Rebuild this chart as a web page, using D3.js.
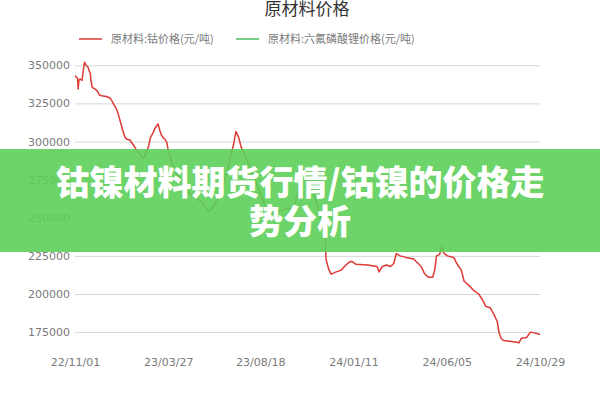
<!DOCTYPE html>
<html lang="zh">
<head>
<meta charset="UTF-8">
<title>原材料价格</title>
<script src="https://cdn.jsdelivr.net/npm/d3@7/dist/d3.min.js"></script>
<style>
    body { margin: 0; background: #fff; }
    svg { display: block; font-family: "Noto Sans CJK SC", "Noto Sans", sans-serif; }
    .grid line { stroke: #d6d6d6; }
    .axis text { fill: #7a7a7a; font-size: 11px; font-family: "DejaVu Sans", sans-serif; }
</style>
</head>
<body>
<svg id="chart" width="600" height="400"></svg>
<script>
// 钴价格 (元/吨)
var cobaltDates = [
    "2022-11-01","2022-11-05","2022-11-06","2022-11-07","2022-11-09","2022-11-12","2022-11-15","2022-11-16",
    "2022-11-18","2022-11-21","2022-11-25","2022-11-26","2022-11-28","2022-12-02","2022-12-05","2022-12-07",
    "2022-12-09","2022-12-13","2022-12-20","2022-12-26","2022-12-29","2023-01-01","2023-01-04","2023-01-07",
    "2023-01-09","2023-01-12","2023-01-15","2023-01-18","2023-01-21","2023-01-26","2023-01-29","2023-02-01",
    "2023-02-05","2023-02-08","2023-02-14","2023-02-16","2023-02-19","2023-02-24","2023-02-27","2023-03-03",
    "2023-03-06","2023-03-11","2023-03-14","2023-03-16","2023-03-19","2023-03-22","2023-03-25","2023-03-27",
    "2023-04-02","2023-04-09","2023-04-20","2023-04-28","2023-05-03","2023-05-11","2023-05-19","2023-05-24",
    "2023-05-29","2023-06-03","2023-06-08","2023-06-14","2023-06-21","2023-06-27","2023-07-02","2023-07-07",
    "2023-07-11","2023-07-15","2023-07-19","2023-07-25","2023-08-02","2023-08-10","2023-08-18","2023-08-26",
    "2023-08-31","2023-09-10","2023-09-18","2023-09-26","2023-10-04","2023-10-10","2023-10-15","2023-10-18",
    "2023-10-21","2023-10-26","2023-10-31","2023-11-04","2023-11-10","2023-11-15","2023-11-20","2023-11-25",
    "2023-11-28","2023-11-29","2023-12-03","2023-12-07","2023-12-10","2023-12-15","2023-12-22","2023-12-28",
    "2024-01-03","2024-01-08","2024-01-15","2024-02-02","2024-02-17","2024-02-20","2024-02-25","2024-03-03",
    "2024-03-09","2024-03-14","2024-03-18","2024-03-24","2024-04-02","2024-04-14","2024-04-20","2024-04-26",
    "2024-05-01","2024-05-07","2024-05-14","2024-05-17","2024-05-20","2024-05-25","2024-05-28","2024-05-31",
    "2024-06-06","2024-06-16","2024-06-20","2024-06-28","2024-07-02","2024-07-10","2024-07-18","2024-07-25",
    "2024-08-01","2024-08-05","2024-08-12","2024-08-18","2024-08-23","2024-08-26","2024-08-29","2024-09-02",
    "2024-09-11","2024-09-20","2024-09-26","2024-09-30","2024-10-08","2024-10-14","2024-10-20","2024-10-29"
];
var cobaltPrice = [
    343000,341500,334500,340000,341000,340000,350000,352000,
    350000,349000,344500,340000,335500,334500,333500,332500,
    330500,330000,329500,328500,326500,324000,322000,319000,
    316000,311500,307000,303000,301500,301000,299000,297500,
    294500,293000,289500,289000,291000,296500,302500,305500,
    308500,311500,307000,304500,302500,301500,299000,294000,
    285500,279000,272000,266500,264500,262500,260000,257000,
    254500,255500,259000,264500,272000,280000,289500,297500,
    306500,303000,296500,291000,283000,274500,265500,258000,
    253500,252500,254500,255500,256000,257000,264500,274500,
    282000,281000,275500,271000,265500,259000,250000,241500,
    235000,223000,216500,213000,213500,214500,215500,218000,
    220500,221500,219500,219000,218000,214500,218000,219000,
    218000,220000,226500,225000,224000,223000,220500,218000,
    213500,211000,211000,215500,225000,226000,232000,227000,
    225000,224000,220500,215500,208500,205500,202000,200000,
    195500,192000,191000,186500,182000,174500,171000,169500,
    169000,168500,168000,171000,171500,175000,174500,173500
];
// 六氟磷酸锂价格: no line visible in the picture
var lipf6Dates = [];
var lipf6Price = [];

var seriesNames = ["原材料:钴价格(元/吨)", "原材料:六氟磷酸锂价格(元/吨)"];
var seriesColors = ["#dd3a35", "#4cbb5c"];
var xTickLabels = ["2022-11-01", "2023-03-27", "2023-08-18", "2024-01-11", "2024-06-05", "2024-10-29"];
var yTicks = [175000, 200000, 225000, 250000, 275000, 300000, 325000, 350000];
var bannerLines = ["钴镍材料期货行情/钴镍的价格走", "势分析"];

var parse = d3.timeParse("%Y-%m-%d");
var svg = d3.select("#chart");
var plotLeft = 75, plotRight = 540, plotTop = 50, plotBottom = 355;

var x = d3.scaleTime()
    .domain([parse(xTickLabels[0]), parse(xTickLabels[xTickLabels.length - 1])])
    .range([plotLeft, plotRight]);
var y = d3.scaleLinear().domain([160000, 360000]).range([plotBottom, plotTop]);

// title
svg.append("text")
    .attr("x", 307).attr("y", 15)
    .attr("text-anchor", "middle")
    .attr("font-size", 17)
    .attr("fill", "#333")
    .text("原材料价格");

// legend
var lx = [79, 236];
var legend = svg.selectAll("g.legend").data(seriesNames).enter().append("g").attr("class", "legend");
legend.append("line")
    .attr("x1", function (d, i) { return lx[i]; })
    .attr("x2", function (d, i) { return lx[i] + 23; })
    .attr("y1", 39).attr("y2", 39)
    .attr("stroke", function (d, i) { return seriesColors[i]; })
    .attr("stroke-width", 1.5);
legend.append("text")
    .attr("x", function (d, i) { return lx[i] + 32; })
    .attr("y", 43)
    .attr("font-size", 11)
    .attr("fill", "#7a7a7a")
    .text(function (d) { return d; });

// y grid + labels
svg.append("g")
    .attr("class", "axis grid")
    .attr("transform", "translate(" + plotLeft + ",0)")
    .call(d3.axisLeft(y).tickValues(yTicks).tickSize(-(plotRight - plotLeft)).tickPadding(5).tickFormat(d3.format("d")))
    .call(function (g) { g.select(".domain").remove(); });

// x labels
svg.append("g")
    .attr("class", "axis")
    .attr("transform", "translate(0," + plotBottom + ")")
    .call(d3.axisBottom(x).tickValues(xTickLabels.map(parse)).tickSize(0).tickPadding(3)
        .tickFormat(d3.timeFormat("%y/%m/%d")))
    .call(function (g) { g.select(".domain").remove(); });

var line = d3.line()
    .x(function (d) { return x(d[0]); })
    .y(function (d) { return y(d[1]); });

var cobalt = cobaltDates.map(function (d, i) { return [parse(d), cobaltPrice[i]]; });
var lipf6 = lipf6Dates.map(function (d, i) { return [parse(d), lipf6Price[i]]; });

svg.append("path").datum(cobalt)
    .attr("d", line)
    .attr("fill", "none")
    .attr("stroke", seriesColors[0])
    .attr("stroke-width", 1.5)
    .attr("stroke-linejoin", "round");
svg.append("path").datum(lipf6)
    .attr("d", line)
    .attr("fill", "none")
    .attr("stroke", seriesColors[1])
    .attr("stroke-width", 1.5);

// banner over the chart
svg.append("rect")
    .attr("x", 0).attr("y", 149)
    .attr("width", 600).attr("height", 103)
    .attr("fill", "rgb(92,207,88)")
    .attr("fill-opacity", 0.9);

svg.append("text")
    .attr("text-anchor", "middle")
    .attr("font-size", 34)
    .attr("font-weight", 900)
    .attr("fill", "#fff")
    .selectAll("tspan").data(bannerLines).enter().append("tspan")
    .attr("x", 300)
    .attr("y", function (d, i) { return 195 + i * 39; })
    .text(function (d) { return d; });
</script>
</body>
</html>
